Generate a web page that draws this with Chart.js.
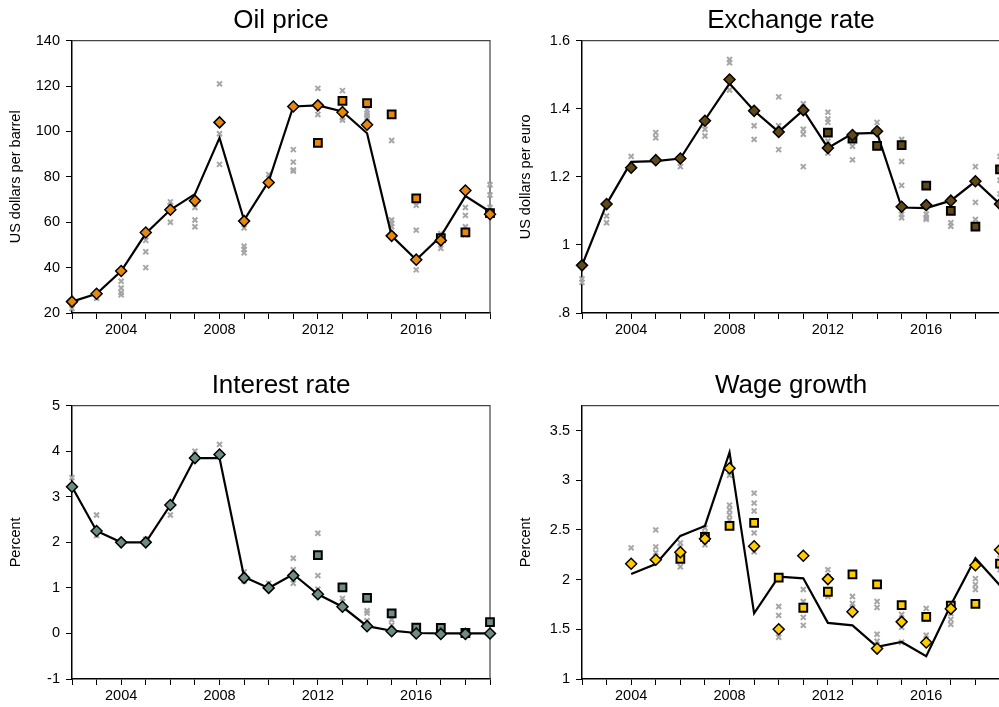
<!DOCTYPE html>
<html>
<head>
<meta charset="utf-8">
<script src="https://cdn.jsdelivr.net/npm/chart.js@4.4.1/dist/chart.umd.min.js"></script>
<style>
    html, body { margin: 0; padding: 0; background: #fff; overflow: hidden; }
    body { width: 999px; height: 707px; position: relative; }
    canvas { position: absolute; }
</style>
</head>
<body>
<canvas id="oilChart" width="499" height="365" style="left:0;top:0"></canvas>
<canvas id="fxChart" width="500" height="365" style="left:510px;top:0"></canvas>
<canvas id="rateChart" width="499" height="342" style="left:0;top:365px"></canvas>
<canvas id="wageChart" width="500" height="342" style="left:510px;top:365px"></canvas>
<script>
// years on the x axis, only some of them get a label
const years = [2002, 2003, 2004, 2005, 2006, 2007, 2008, 2009, 2010, 2011, 2012, 2013, 2014, 2015, 2016, 2017, 2018, 2019];
const xLabels = [2004, 2008, 2012, 2016];

// Oil price (US dollars per barrel)
const oilTicks = [20, 40, 60, 80, 100, 120, 140];
const oilActual = [25, 28.5, 38.5, 55, 65.5, 72.4, 97.2, 60.9, 78, 111, 111.5, 108.8, 99.2, 54, 43.5, 53.8, 71.5, 64.6];
const oilDiamond = [25, 28.5, 38.5, 55.5, 65.5, 69.5, 104, 60.5, 77.5, 111, 111.5, 108.5, 103, 54, 43.5, 52, 74, 63.5];
const oilSquare = [null, null, null, null, null, null, null, null, null, null, 95, 113.5, 112.5, 107.5, 70.5, 53, 55.5, 64];
const oilGray = [
    [22, 24], [26.5, 28], [34, 31, 29, 28], [52, 47, 40], [69, 67, 60], [66.5, 61, 58],
    [121, 99, 85.5], [57.5, 49.5, 48, 46.5], [81], [92, 86.5, 83, 82.5], [119, 107.5], [118, 106, 105],
    [109.5, 108, 107, 106], [96, 61, 59.5, 58], [67.5, 56.5, 39], [55, 48.5], [66.5, 63, 58, 54.5], [76.5, 72, 66.5]
];

// Exchange rate (US dollars per euro)
const fxTicks = [0.8, 1, 1.2, 1.4, 1.6];
const fxActual = [0.94, 1.12, 1.244, 1.246, 1.254, 1.367, 1.474, 1.394, 1.332, 1.396, 1.285, 1.327, 1.329, 1.11, 1.108, 1.13, 1.187, 1.12];
const fxDiamond = [0.94, 1.12, 1.227, 1.249, 1.254, 1.365, 1.486, 1.394, 1.332, 1.396, 1.285, 1.323, 1.334, 1.112, 1.117, 1.13, 1.187, 1.12];
const fxSquare = [null, null, null, null, null, null, null, null, null, null, 1.33, 1.312, 1.291, 1.293, 1.174, 1.1, 1.054, 1.222];
const fxGray = [
    [0.9, 0.89], [1.085, 1.065], [1.26], [1.33, 1.315], [1.23], [1.34, 1.32],
    [1.545, 1.535, 1.455], [1.35, 1.31], [1.435, 1.35, 1.28], [1.415, 1.34, 1.325, 1.23], [1.39, 1.37, 1.36, 1.305, 1.27], [1.29, 1.25],
    [1.36, 1.285], [1.31, 1.245, 1.175, 1.09, 1.08], [1.09, 1.08, 1.075], [1.065, 1.055], [1.23, 1.125, 1.075], [1.26, 1.19, 1.15]
];

// Interest rate (percent)
const rateTicks = [-1, 0, 1, 2, 3, 4, 5];
const rateActual = [3.22, 2.25, 2.0, 2.0, 2.82, 3.85, 3.85, 1.24, 1.0, 1.3, 0.86, 0.585, 0.16, 0.06, 0.01, 0, 0, 0];
const rateDiamond = [3.22, 2.25, 2.0, 2.0, 2.82, 3.85, 3.93, 1.22, 1.0, 1.27, 0.86, 0.585, 0.16, 0.05, 0, -0.01, -0.01, 0];
const rateSquare = [null, null, null, null, null, null, null, null, null, null, 1.72, 1.01, 0.78, 0.44, 0.13, 0.12, 0.01, 0.25];
const rateGray = [
    [3.42], [2.6, 2.15], [], [2.07], [2.6], [4.0],
    [4.15], [1.35, 1.15], [1.1], [1.65, 1.4, 1.1], [2.2, 1.27, 0.97], [0.77, 0.7],
    [0.5, 0.45, 0.28], [0.3, 0.18], [0.05], [0.05], [0.02], []
];

// Wage growth (percent)
const wageTicks = [1, 1.5, 2, 2.5, 3, 3.5];
const wageActual = [null, null, 2.057, 2.157, 2.44, 2.54, 3.28, 1.66, 2.03, 2.013, 1.565, 1.54, 1.323, 1.373, 1.23, 1.744, 2.215, 1.94];
const wageDiamond = [null, null, 2.16, 2.2, 2.275, 2.41, 3.12, 2.335, 1.5, 2.24, 2.005, 1.676, 1.306, 1.575, 1.367, 1.706, 2.144, 2.3];
const wageSquare = [null, null, null, null, 2.21, 2.43, 2.54, 2.57, 2.02, 1.717, 1.878, 2.053, 1.952, 1.744, 1.626, 1.737, 1.757, 2.16];
const wageGray = [
    [], [], [2.32], [2.5, 2.33, 2.27], [2.37, 2.33, 2.13], [2.52, 2.47, 2.35],
    [3.05, 2.75, 2.7, 2.65, 2.6], [2.87, 2.77, 2.69, 2.47, 2.28], [1.73, 1.64, 1.42], [1.9, 1.78, 1.7, 1.62, 1.54], [2.1, 2.03, 1.83], [2.06, 1.83, 1.76, 1.71],
    [1.78, 1.72, 1.45, 1.38], [1.65, 1.52, 1.37], [1.71, 1.6, 1.44], [1.66, 1.6, 1.55], [2.01, 1.95, 1.9], [2.25, 2.15, 2.1]
];

const fontFamily = '"Liberation Sans", Arial, sans-serif';

// top and right edges of the plot box
const framePlugin = {
    id: 'frame',
    beforeDatasetsDraw(chart) {
        const { ctx, chartArea } = chart;
        ctx.save();
        ctx.strokeStyle = '#444';
        ctx.lineWidth = 1.2;
        ctx.beginPath();
        ctx.moveTo(chartArea.left, chartArea.top);
        ctx.lineTo(chartArea.right, chartArea.top);
        ctx.lineTo(chartArea.right, chartArea.bottom);
        ctx.stroke();
        ctx.restore();
    }
};

function toPoints(values) {
    return values
        .map((v, i) => ({ x: years[i], y: v }))
        .filter(pt => pt.y !== null);
}

function drawPanel(canvasId, p) {
    const grayPoints = p.gray.flatMap((vals, i) => vals.map(v => ({ x: years[i], y: v })));
    const tickFont = { family: fontFamily, size: 14.5 };

    return new Chart(document.getElementById(canvasId), {
        type: 'scatter',
        data: {
            datasets: [
                {
                    data: toPoints(p.diamond),
                    pointStyle: 'rectRot',
                    pointRadius: 5.5,
                    backgroundColor: p.color,
                    borderColor: '#000',
                    borderWidth: 1.5,
                    clip: false,
                    order: 0
                },
                {
                    data: toPoints(p.square),
                    pointStyle: 'rect',
                    pointRadius: 5.5,
                    backgroundColor: p.color,
                    borderColor: '#000',
                    borderWidth: 2,
                    clip: false,
                    order: 1
                },
                {
                    data: toPoints(p.actual),
                    showLine: true,
                    borderColor: '#000',
                    borderWidth: 2.2,
                    pointRadius: 0,
                    clip: false,
                    order: 2
                },
                {
                    data: grayPoints,
                    pointStyle: 'crossRot',
                    pointRadius: 3.5,
                    borderColor: '#a6a6a6',
                    borderWidth: 2,
                    clip: false,
                    order: 3
                }
            ]
        },
        options: {
            responsive: false,
            animation: false,
            layout: { padding: { left: 0, right: p.padRight, top: 0, bottom: 0 } },
            plugins: {
                legend: { display: false },
                tooltip: { enabled: false },
                title: {
                    display: true,
                    fullSize: false,
                    text: p.title,
                    color: '#000',
                    font: { family: fontFamily, size: 26, weight: 'normal' },
                    padding: { top: 5, bottom: 4.5 }
                }
            },
            scales: {
                x: {
                    type: 'linear',
                    min: years[0],
                    max: years[years.length - 1],
                    afterBuildTicks: s => { s.ticks = years.map(v => ({ value: v })); },
                    afterFit: s => { s.height = p.xAxisHeight; },
                    grid: { drawOnChartArea: false, tickLength: 6, color: '#000', lineWidth: 1 },
                    border: { color: '#000', width: 1.5 },
                    ticks: {
                        autoSkip: false,
                        maxRotation: 0,
                        padding: 2,
                        color: '#000',
                        font: tickFont,
                        callback: v => xLabels.includes(v) ? String(v) : ''
                    }
                },
                y: {
                    min: p.yMin,
                    max: p.yMax,
                    afterBuildTicks: s => { s.ticks = p.yTicks.map(v => ({ value: v })); },
                    afterFit: s => { s.width = 72; },
                    grid: { drawOnChartArea: false, tickLength: 6, color: '#000', lineWidth: 1 },
                    border: { color: '#000', width: 1.5 },
                    ticks: {
                        padding: 6,
                        color: '#000',
                        font: tickFont,
                        callback: v => String(v).replace(/^0\./, '.')
                    },
                    title: {
                        display: true,
                        text: p.yTitle,
                        color: '#000',
                        font: tickFont,
                        padding: { top: 7, bottom: 0 }
                    }
                }
            }
        },
        plugins: [framePlugin]
    });
}

drawPanel('oilChart', {
    title: 'Oil price', yTitle: 'US dollars per barrel',
    yMin: 20, yMax: 140, yTicks: oilTicks,
    actual: oilActual, diamond: oilDiamond, square: oilSquare, gray: oilGray,
    color: '#e8870b', padRight: 9, xAxisHeight: 52
});

drawPanel('fxChart', {
    title: 'Exchange rate', yTitle: 'US dollars per euro',
    yMin: 0.8, yMax: 1.6, yTicks: fxTicks,
    actual: fxActual, diamond: fxDiamond, square: fxSquare, gray: fxGray,
    color: '#604818', padRight: 10, xAxisHeight: 52
});

drawPanel('rateChart', {
    title: 'Interest rate', yTitle: 'Percent',
    yMin: -1, yMax: 5, yTicks: rateTicks,
    actual: rateActual, diamond: rateDiamond, square: rateSquare, gray: rateGray,
    color: '#6c8c86', padRight: 9, xAxisHeight: 28
});

drawPanel('wageChart', {
    title: 'Wage growth', yTitle: 'Percent',
    yMin: 1, yMax: 3.75, yTicks: wageTicks,
    actual: wageActual, diamond: wageDiamond, square: wageSquare, gray: wageGray,
    color: '#ffcc00', padRight: 10, xAxisHeight: 28
});
</script>
</body>
</html>
